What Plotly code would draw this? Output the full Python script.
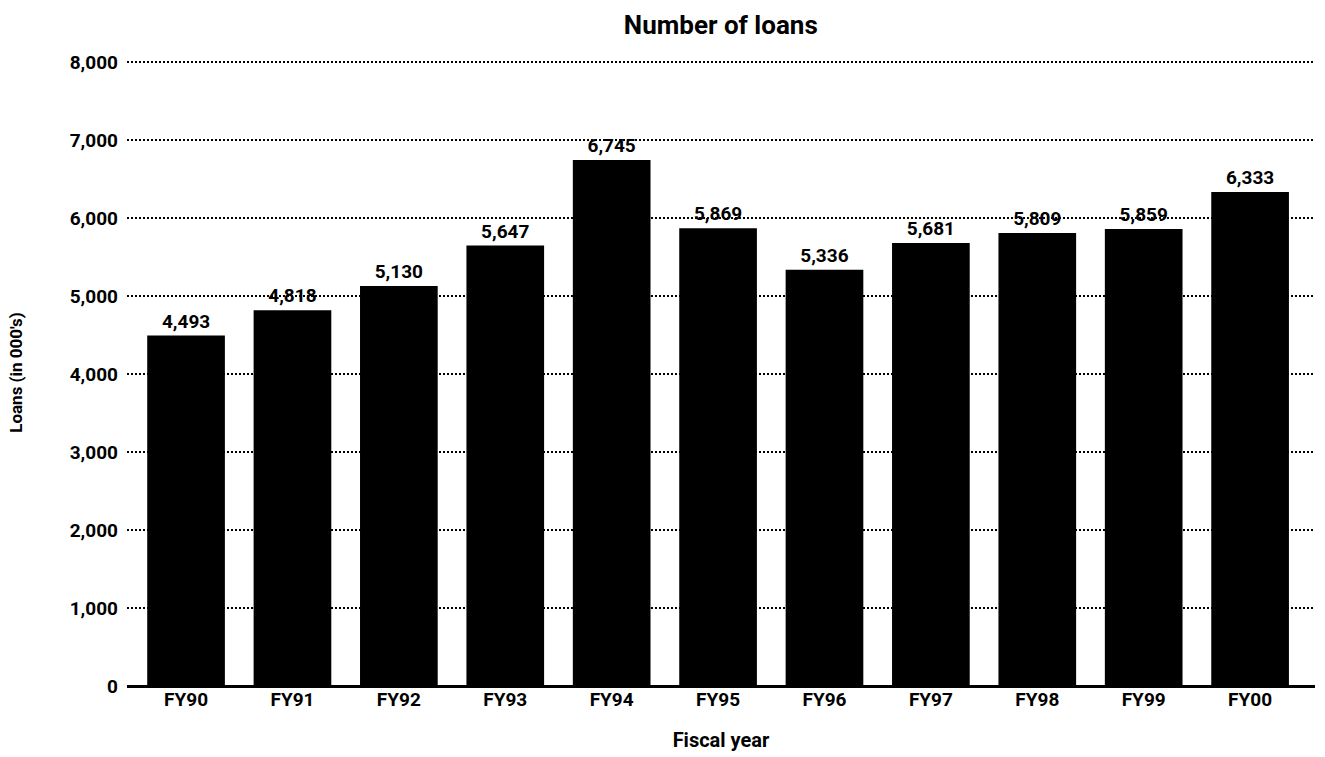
import plotly.graph_objects as go

categories = ["FY90", "FY91", "FY92", "FY93", "FY94", "FY95", "FY96", "FY97", "FY98", "FY99", "FY00"]
loans = [4493, 4818, 5130, 5647, 6745, 5869, 5336, 5681, 5809, 5859, 6333]
y_ticks = [0, 1000, 2000, 3000, 4000, 5000, 6000, 7000, 8000]
y_tick_labels = ["0", "1,000", "2,000", "3,000", "4,000", "5,000", "6,000", "7,000", "8,000"]

FONT = "Roboto, Liberation Sans, sans-serif"

fig = go.Figure(go.Bar(
    x=categories,
    y=loans,
    marker=dict(color="#000000", line=dict(width=0)),
    text=[f"{v:,}" for v in loans],
    textposition="outside",
    textfont=dict(family=FONT, size=19, color="#000000", weight="bold"),
    cliponaxis=False,
))

fig.update_layout(
    width=1325, height=757,
    paper_bgcolor="white", plot_bgcolor="white",
    margin=dict(l=127, r=10, t=59, b=71),
    bargap=0.27,
    showlegend=False,
    title=dict(text="<b>Number of loans</b>", x=0.544, xanchor="center", y=0.967, yanchor="middle",
               font=dict(family=FONT, size=26, color="#000000")),
    font=dict(family=FONT, color="#000000"),
)
fig.update_xaxes(
    range=[-0.555, 10.61],
    showline=False, showgrid=False, ticks="",
    tickfont=dict(family=FONT, size=19, color="#000000", weight="bold"),
    title=dict(text="<b>Fiscal year</b>", font=dict(family=FONT, size=20, color="#000000"), standoff=22),
)
fig.update_yaxes(
    range=[0, 8040],
    tickvals=y_ticks, ticktext=y_tick_labels,
    showgrid=True, gridcolor="#000000", griddash="2px,2px", gridwidth=1.6,
    zeroline=True, zerolinecolor="#000000", zerolinewidth=2.5,
    showline=False, ticks="",
    tickfont=dict(family=FONT, size=19, color="#000000", weight="bold"),
    ticklabelstandoff=8,
    title=dict(text="<b>Loans (in 000's)</b>", font=dict(family=FONT, size=17, color="#000000"), standoff=42),
)

fig.write_html("out.html", config={"displayModeBar": False},
               post_script="document.body.style.margin='0';")
